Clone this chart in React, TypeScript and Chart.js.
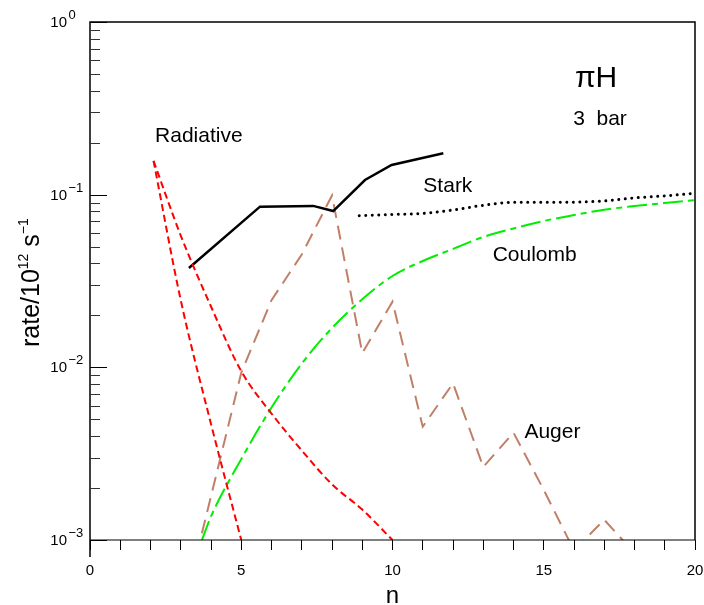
import React, { useEffect, useRef } from 'react';
import { Chart, registerables } from 'chart.js';

Chart.register(...registerables);

const FONT = "'Liberation Sans', Arial, Helvetica, sans-serif";

// ---- data ----
// Radiative, steep branch
const radSteepN = [2.1, 3, 4, 5];
const radSteepRate = [0.157, 0.0245, 0.0047, 0.001];
// Radiative, shallow branch
const radShallowN = [2.1, 3, 4, 5, 6, 7, 8, 9, 10];
const radShallowRate = [0.157, 0.058, 0.0225, 0.0095, 0.0054, 0.0033, 0.0021, 0.0015, 0.001];
// Stark (solid, low n)
const starkN = [3.27, 5.62, 7.38, 8.04, 9.09, 9.97, 11.68];
const starkRate = [0.0376, 0.0852, 0.0861, 0.0804, 0.1216, 0.1485, 0.1737];
// Stark (dotted, high n)
const starkHiN = [8.9, 10, 11, 12, 13, 14, 15, 16, 17, 18, 19, 20];
const starkHiRate = [0.0756, 0.0768, 0.0779, 0.0815, 0.0868, 0.0903, 0.0903, 0.0905, 0.092, 0.0958, 0.0984, 0.1018];
// Coulomb
const coulombN = [3.7, 4, 5, 6, 7, 8, 9, 10, 11, 12, 13, 14, 15, 16, 17, 18, 19, 20];
const coulombRate = [0.001, 0.00137, 0.00294, 0.00585, 0.0105, 0.0169, 0.0248, 0.0338, 0.0413, 0.0485, 0.0569, 0.0637, 0.0704, 0.0762, 0.0818, 0.0859, 0.0895, 0.0931];
// Auger
const augerN = [3, 4, 5, 6, 7, 8, 9, 10, 11, 12, 13, 14, 15, 16, 17, 18];
const augerRate = [0.00035, 0.00179, 0.0093, 0.0245, 0.045, 0.099, 0.0121, 0.024, 0.00453, 0.00808, 0.00265, 0.00418, 0.00195, 0.00087, 0.00131, 0.00084];

// axis ticks
const xMin = 0;
const xMax = 20;
const xLabelTicks = [0, 5, 10, 15, 20];
const yDecades = [-3, -2, -1, 0];

const toPts = (xs: number[], ys: number[]) => xs.map((x, i) => ({ x, y: ys[i] }));

const decorPlugin = {
  id: 'decor',
  afterDraw(chart: any) {
    const { ctx, chartArea: a, scales } = chart;
    const x = scales.x;
    const y = scales.y;
    ctx.save();

    // frame
    ctx.strokeStyle = '#000';
    ctx.lineWidth = 1.5;
    ctx.beginPath();
    ctx.moveTo(a.left, a.bottom + 17);
    ctx.lineTo(a.left, a.top);
    ctx.lineTo(a.right, a.top);
    ctx.lineTo(a.right, a.bottom);
    ctx.stroke();
    ctx.lineWidth = 1.2;
    ctx.beginPath();
    ctx.moveTo(a.left, a.bottom);
    ctx.lineTo(a.right, a.bottom);
    ctx.stroke();

    // y ticks (inward)
    ctx.lineWidth = 1;
    for (const d of yDecades) {
      for (let m = 1; m < 10; m++) {
        const v = m * Math.pow(10, d);
        if (v > 1.0001) break;
        const py = Math.round(y.getPixelForValue(v)) + 0.5;
        const len = m === 1 ? 17 : 10;
        ctx.strokeStyle = m === 1 ? '#000' : '#333';
        ctx.beginPath();
        ctx.moveTo(a.left, py);
        ctx.lineTo(a.left + len, py);
        ctx.stroke();
      }
    }

    // y tick labels 10^k
    ctx.fillStyle = '#000';
    for (const d of yDecades) {
      const py = y.getPixelForValue(Math.pow(10, d));
      ctx.font = `15px ${FONT}`;
      ctx.textAlign = 'right';
      ctx.textBaseline = 'middle';
      ctx.fillText('10', a.left - 23, py + 1);
      ctx.font = `13px ${FONT}`;
      ctx.textAlign = 'left';
      ctx.textBaseline = 'alphabetic';
      ctx.fillText(d === 0 ? '0' : '\u2212' + String(-d), a.left - 21.5, py - 3);
    }

    // y title: rate/10^12 s^-1 (rotated)
    ctx.save();
    ctx.translate(38.5, 347);
    ctx.rotate(-Math.PI / 2);
    ctx.textAlign = 'left';
    ctx.textBaseline = 'alphabetic';
    let cx = 0;
    const seg = (t: string, size: number, dy: number) => {
      ctx.font = `${size}px ${FONT}`;
      ctx.fillText(t, cx, dy);
      cx += ctx.measureText(t).width;
    };
    seg('rate/10', 25, 0);
    seg('12', 14, -11);
    seg(' s', 25, 0);
    seg('\u22121', 14, -11);
    ctx.restore();

    // x title
    ctx.font = `24px ${FONT}`;
    ctx.textAlign = 'center';
    ctx.textBaseline = 'alphabetic';
    ctx.fillText('n', x.getPixelForValue(10), 603);

    // curve labels
    const label = (t: string, nx: number, ry: number, size: number, align: CanvasTextAlign) => {
      ctx.font = `${size}px ${FONT}`;
      ctx.textAlign = align;
      ctx.textBaseline = 'alphabetic';
      ctx.fillText(t, x.getPixelForValue(nx), y.getPixelForValue(ry));
    };
    label('Radiative', 2.15, 0.201, 21, 'left');
    label('Stark', 11.02, 0.104, 21, 'left');
    label('Coulomb', 13.31, 0.0415, 21, 'left');
    label('Auger', 14.36, 0.00388, 21, 'left');
    label('\u03c0H', 16.73, 0.422, 30, 'center');
    label('3  bar', 16.86, 0.253, 21, 'center');

    ctx.restore();
  },
};

export default function App() {
  const ref = useRef<HTMLCanvasElement | null>(null);

  useEffect(() => {
    if (!ref.current) return;
    const common = { pointRadius: 0, pointHoverRadius: 0, fill: false, tension: 0, borderWidth: 2 };
    const smooth = { cubicInterpolationMode: 'monotone' };
    const chart = new Chart(ref.current, {
      type: 'line',
      data: {
        datasets: [
          { label: 'Radiative', data: toPts(radSteepN, radSteepRate), borderColor: '#ff0000', borderDash: [7, 4], ...common, ...smooth },
          { label: 'Radiative (2)', data: toPts(radShallowN, radShallowRate), borderColor: '#ff0000', borderDash: [7, 4], ...common, ...smooth },
          { label: 'Stark', data: toPts(starkN, starkRate), borderColor: '#000000', ...common, borderWidth: 2.5 },
          { label: 'Stark (high n)', data: toPts(starkHiN, starkHiRate), borderColor: '#000000', ...common, ...smooth, borderWidth: 3, borderDash: [0.01, 6.5], borderCapStyle: 'round' },
          { label: 'Coulomb', data: toPts(coulombN, coulombRate), borderColor: '#00ee00', borderDash: [20, 5, 6, 5], ...common, ...smooth },
          { label: 'Auger', data: toPts(augerN, augerRate), borderColor: '#c08068', borderDash: [14, 8], ...common },
        ] as any,
      },
      options: {
        animation: false,
        responsive: true,
        maintainAspectRatio: false,
        layout: { padding: { left: 0, right: 9, top: 22, bottom: 0 } },
        plugins: { legend: { display: false }, tooltip: { enabled: false } },
        events: [],
        scales: {
          x: {
            type: 'linear',
            min: xMin,
            max: xMax,
            afterFit: (s: any) => { s.height = 65; s.paddingLeft = 0; s.paddingRight = 0; },
            ticks: {
              stepSize: 1,
              autoSkip: false,
              maxRotation: 0,
              padding: 12,
              color: '#000',
              font: { family: FONT, size: 15 },
              callback: (v: any) => (xLabelTicks.includes(Number(v)) ? String(v) : ''),
            },
            grid: { display: true, drawOnChartArea: false, drawTicks: true, tickLength: 10, color: '#000', lineWidth: 1 },
            border: { display: false },
          },
          y: {
            type: 'logarithmic',
            min: 0.001,
            max: 1,
            afterFit: (s: any) => { s.width = 90; s.paddingTop = 0; s.paddingBottom = 0; },
            ticks: { display: false },
            grid: { display: false },
            border: { display: false },
          },
        },
      } as any,
      plugins: [decorPlugin],
    });
    return () => chart.destroy();
  }, []);

  return (
    <div style={{ position: 'absolute', left: 0, top: 0, width: 704, height: 605, background: '#fff' }}>
      <canvas ref={ref} />
    </div>
  );
}
